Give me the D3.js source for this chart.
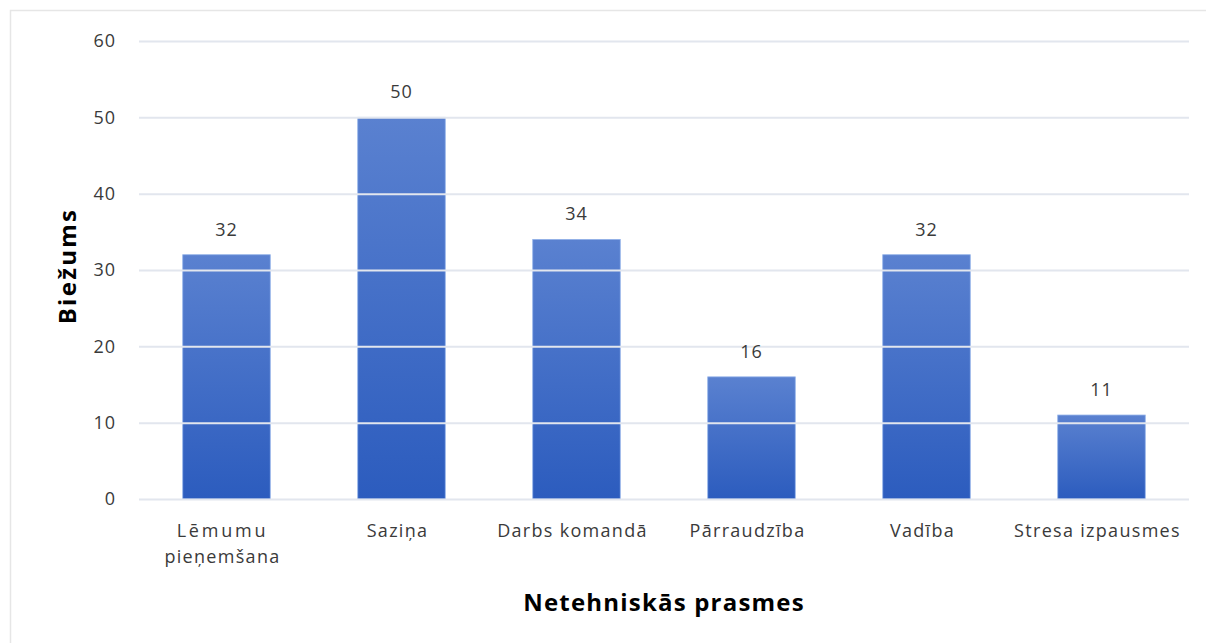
<!DOCTYPE html>
<html>
<head>
<meta charset="utf-8">
<script src="https://cdn.jsdelivr.net/npm/d3@7"></script>
<style>
  html, body { margin: 0; padding: 0; background: #fff; }
  svg { display: block; }
  text { font-family: "Open Sans", "Noto Sans", sans-serif; }
</style>
</head>
<body>
<svg id="chart" width="1206" height="643"></svg>
<script>
// Skill categories (each inner array is one line of the label)
const categories = [
  ["Lēmumu", "pieņemšana"],
  ["Saziņa"],
  ["Darbs komandā"],
  ["Pārraudzība"],
  ["Vadība"],
  ["Stresa izpausmes"]
];
const values = [32, 50, 34, 16, 32, 11];
const yTicks = [0, 10, 20, 30, 40, 50, 60];
const yTitle = "Biežums";
const xTitle = "Netehniskās prasmes";

const svg = d3.select("#chart");
const W = 1206, H = 643;
const margin = { left: 139, right: 17, top: 41, bottom: 144 };

// light frame around the chart area
svg.append("path")
  .attr("d", "M10.5,643 V10.5 H1206")
  .attr("fill", "none")
  .attr("stroke", "#e6e6e6")
  .attr("stroke-width", 1.5);

const keys = categories.map(c => c.join(" "));
const x = d3.scaleBand()
  .domain(keys)
  .range([margin.left, W - margin.right])
  .paddingInner(0.5)
  .paddingOuter(0.25);

const y = d3.scaleLinear()
  .domain([0, 60])
  .range([H - margin.bottom, margin.top]);

// bar gradient
const defs = svg.append("defs");
const grad = defs.append("linearGradient")
  .attr("id", "barGrad")
  .attr("x1", 0).attr("y1", 0).attr("x2", 0).attr("y2", 1);
grad.append("stop").attr("offset", "0%").attr("stop-color", "#5a81d0");
grad.append("stop").attr("offset", "100%").attr("stop-color", "#2c5cbe");

// bars
svg.append("g").selectAll("rect")
  .data(values)
  .join("rect")
  .attr("x", (d, i) => x(keys[i]))
  .attr("y", d => y(d))
  .attr("width", x.bandwidth())
  .attr("height", d => y(0) - y(d))
  .attr("fill", "url(#barGrad)")
  .attr("stroke", "#8fb0e8")
  .attr("stroke-width", 0.8);

// gridlines, drawn above the bars
const grid = d3.axisLeft(y)
  .tickValues(yTicks)
  .tickSize(-(W - margin.left - margin.right))
  .tickFormat("");
svg.append("g")
  .attr("transform", `translate(${margin.left},0)`)
  .call(grid)
  .call(g => g.select(".domain").remove())
  .call(g => g.selectAll("line")
    .attr("stroke", "#e2e6ee")
    .attr("stroke-width", 2));

// y tick labels
const yAxis = d3.axisLeft(y)
  .tickValues(yTicks)
  .tickSize(0)
  .tickPadding(23)
  .tickFormat(d3.format("d"));
svg.append("g")
  .attr("transform", `translate(${margin.left},0)`)
  .call(yAxis)
  .call(g => g.select(".domain").remove())
  .call(g => g.selectAll("text")
    .attr("font-size", 18)
    .attr("letter-spacing", 1)
    .attr("fill", "#3a3a3a")
    .style("font-family", "'Open Sans', sans-serif"));

// x category labels
const xAxis = d3.axisBottom(x).tickSize(0).tickFormat("");
const xg = svg.append("g")
  .attr("transform", `translate(0,${y(0)})`)
  .call(xAxis)
  .call(g => g.select(".domain").remove());
xg.selectAll(".tick").each(function(d, i) {
  const t = d3.select(this).append("text")
    .attr("text-anchor", "middle")
    .attr("font-size", 18)
    .attr("fill", "#3a3a3a")
    .attr("y", 38)
    .attr("transform", "translate(-4,0)");
  categories[i].forEach((line, k) => {
    t.append("tspan")
      .attr("x", 0)
      .attr("dy", k === 0 ? 0 : 26)
      .attr("letter-spacing", line === "Lēmumu" ? 2.8 : 1.3)
      .text(line);
  });
});

// value labels
svg.append("g").selectAll("text")
  .data(values)
  .join("text")
  .attr("x", (d, i) => x(keys[i]) + x.bandwidth() / 2)
  .attr("y", d => y(d) - 19)
  .attr("text-anchor", "middle")
  .attr("font-size", 18)
  .attr("letter-spacing", 1)
  .attr("fill", "#3a3a3a")
  .text(d => d);

// axis titles
svg.append("text")
  .attr("transform", `translate(76,266) rotate(-90)`)
  .attr("text-anchor", "middle")
  .attr("font-size", 24)
  .attr("letter-spacing", 2.3)
  .attr("font-weight", "bold")
  .attr("fill", "#000")
  .text(yTitle);

svg.append("text")
  .attr("x", (margin.left + W - margin.right) / 2)
  .attr("y", 611)
  .attr("text-anchor", "middle")
  .attr("font-size", 24)
  .attr("letter-spacing", 1.2)
  .attr("font-weight", "bold")
  .attr("fill", "#000")
  .text(xTitle);
</script>
</body>
</html>
